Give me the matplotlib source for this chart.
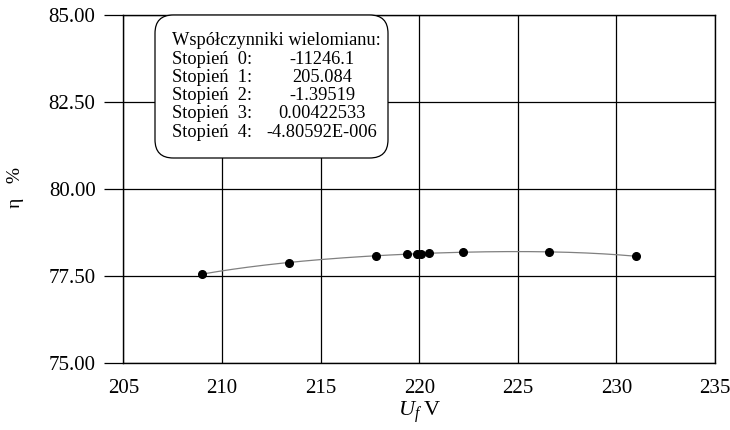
import matplotlib
matplotlib.use("Agg")
import matplotlib.pyplot as plt
import numpy as np
from matplotlib.patches import FancyBboxPatch

plt.rcParams['font.family'] = ['Liberation Serif', 'DejaVu Serif']
plt.rcParams['mathtext.fontset'] = 'custom'
plt.rcParams['mathtext.rm'] = 'Liberation Serif'
plt.rcParams['mathtext.it'] = 'Liberation Serif:italic'

# measured points: supply voltage U_f [V] and efficiency eta [%]
u_f = [209.0, 213.4, 217.8, 219.4, 219.9, 220.1, 220.5, 222.2, 226.6, 231.0]
eta = [77.56, 77.89, 78.09, 78.14, 78.14, 78.14, 78.16, 78.18, 78.20, 78.07]

# polynomial coefficients of the trend line (as printed, degree 0..4)
coef_txt = ['-11246.1', '205.084', '-1.39519', '0.00422533', '-4.80592E-006']

xticks = [205, 210, 215, 220, 225, 230, 235]
yticks = [75.0, 77.5, 80.0, 82.5, 85.0]

fig = plt.figure(figsize=(7.3, 4.3), dpi=100)
ax = fig.add_axes([0.169, 0.155, 0.8105, 0.811])

# 4th degree least squares trend line through the points
# (the printed coefficients are rounded too much to evaluate directly)
p = np.polyfit(u_f, eta, 4)
xs = np.linspace(min(u_f), max(u_f), 200)
ax.plot(xs, np.polyval(p, xs), color='#808080', lw=0.9, zorder=3)
ax.plot(u_f, eta, 'o', color='black', ms=5.5, zorder=4)

ax.set_xlim(205, 235)
ax.set_ylim(75, 85)
ax.set_xticks(xticks)
ax.set_yticks(yticks)
ax.set_yticklabels(['%.2f' % v for v in yticks])
ax.grid(True, color='black', lw=0.9)
ax.tick_params(axis='y', direction='out', length=14, width=0.9, pad=6, labelsize=15)
ax.tick_params(axis='x', length=0, pad=11, labelsize=15)
for s in ax.spines.values():
    s.set_linewidth(1.0)

ax.set_xlabel(r'$U_f\;$V', fontsize=16, labelpad=1)
fig.text(0.021, 0.563, 'η   %', rotation=90, fontsize=14, ha='center', va='center')

# coefficient box
W, H = 730.0, 430.0
box = FancyBboxPatch((155 / W, 1 - 158 / H), (388 - 155) / W, (158 - 15) / H,
                     boxstyle='round,pad=0,rounding_size=0.025',
                     transform=fig.transFigure, fc='white', ec='black', lw=0.9,
                     zorder=5, mutation_aspect=W / H)
fig.add_artist(box)
fig.text(172.5 / W, 1 - 45 / H, 'Współczynniki wielomianu:', fontsize=13.2,
         ha='left', va='baseline', zorder=6)
for i, txt in enumerate(coef_txt):
    yb = 1 - (63.5 + 18.3 * i) / H
    fig.text(172.5 / W, yb, 'Stopień  %d:' % i, fontsize=13.2, ha='left',
             va='baseline', zorder=6)
    fig.text(322 / W, yb, txt, fontsize=13.2, ha='center', va='baseline', zorder=6)

fig.savefig('out.png', dpi=100)
